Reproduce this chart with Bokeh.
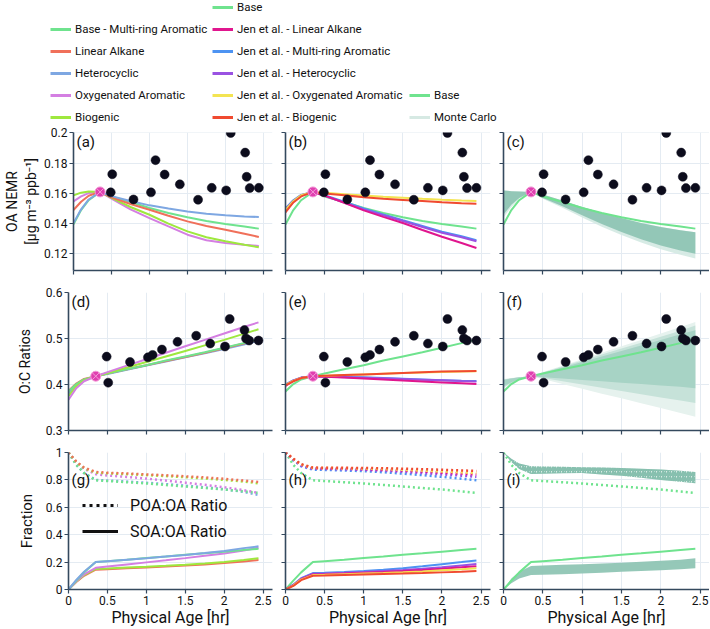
from bokeh.plotting import figure
from bokeh.layouts import column, row
from bokeh.models import Legend, LegendItem, Label, Range1d, FixedTicker
from bokeh.embed import file_html
from bokeh.resources import INLINE

FONT = "Roboto"
TXT = "#111111"
AXC = "#34495e"
GRIDC = "#e4ebf2"

# ---------------- data ----------------
t = [0, 0.1, 0.2, 0.35, 0.5, 0.75, 1.0, 1.25, 1.5, 1.75, 2.0, 2.25, 2.44]

# OA NEMR, this work (panel a)
nemr_base = [0.1395, 0.149, 0.1555, 0.161, 0.158, 0.1543, 0.1503, 0.147, 0.1442, 0.1418, 0.1398, 0.1381, 0.1367]
nemr_la = [0.149, 0.1545, 0.1585, 0.161, 0.1574, 0.153, 0.1492, 0.1452, 0.1415, 0.1385, 0.136, 0.1333, 0.1312]
nemr_het = [0.1404, 0.1495, 0.156, 0.161, 0.1582, 0.155, 0.1521, 0.150, 0.1481, 0.1466, 0.1455, 0.1448, 0.1444]
nemr_oxy = [0.1547, 0.158, 0.1602, 0.161, 0.1565, 0.1495, 0.1437, 0.1382, 0.1327, 0.129, 0.1272, 0.126, 0.1252]
nemr_bio = [0.1587, 0.1605, 0.1612, 0.161, 0.157, 0.151, 0.1459, 0.140, 0.1349, 0.131, 0.1283, 0.126, 0.1244]
# OA NEMR, Jen et al. (panel b)
jnemr_la = [0.1485, 0.1545, 0.1585, 0.161, 0.1585, 0.1538, 0.1488, 0.1445, 0.1404, 0.1358, 0.1313, 0.1272, 0.1239]
jnemr_mra = [0.150, 0.1555, 0.159, 0.161, 0.1588, 0.1545, 0.150, 0.146, 0.1422, 0.1385, 0.1347, 0.1316, 0.129]
jnemr_het = [0.1495, 0.155, 0.1588, 0.161, 0.1585, 0.154, 0.1494, 0.1455, 0.1417, 0.1378, 0.134, 0.131, 0.1283]
jnemr_oxy = [0.149, 0.1548, 0.1588, 0.161, 0.1604, 0.1595, 0.1586, 0.1578, 0.1571, 0.1564, 0.1558, 0.1553, 0.155]
jnemr_bio = [0.1475, 0.154, 0.158, 0.161, 0.160, 0.1588, 0.1575, 0.1565, 0.1557, 0.1549, 0.1541, 0.1535, 0.1532]
# OA NEMR, Monte Carlo envelope (panel c)
mc_nemr_hi = [0.162, 0.1615, 0.1612, 0.161, 0.1593, 0.1553, 0.151, 0.1472, 0.1437, 0.1405, 0.1378, 0.1357, 0.1343]
mc_nemr_lo = [0.146, 0.1525, 0.157, 0.161, 0.157, 0.1515, 0.1455, 0.1398, 0.1345, 0.1297, 0.1255, 0.1222, 0.120]
mc_nemr_lo_faint = [0.144, 0.151, 0.1565, 0.161, 0.1565, 0.1505, 0.144, 0.138, 0.1325, 0.1275, 0.123, 0.1195, 0.117]

# O:C, this work (panel d)
oc_base = [0.385, 0.401, 0.411, 0.418, 0.424, 0.433, 0.442, 0.452, 0.461, 0.470, 0.480, 0.490, 0.498]
oc_la = [0.386, 0.402, 0.412, 0.418, 0.424, 0.433, 0.442, 0.451, 0.460, 0.469, 0.479, 0.489, 0.497]
oc_het = [0.380, 0.399, 0.410, 0.418, 0.423, 0.432, 0.441, 0.450, 0.459, 0.468, 0.477, 0.487, 0.495]
oc_oxy = [0.367, 0.392, 0.407, 0.418, 0.427, 0.441, 0.455, 0.469, 0.483, 0.497, 0.511, 0.525, 0.535]
oc_bio = [0.375, 0.396, 0.409, 0.418, 0.425, 0.437, 0.449, 0.461, 0.473, 0.485, 0.497, 0.510, 0.520]
# O:C, Jen et al. (panel e)
joc_la = [0.397, 0.408, 0.414, 0.418, 0.417, 0.415, 0.413, 0.411, 0.4085, 0.4065, 0.4045, 0.4025, 0.401]
joc_mra = [0.400, 0.409, 0.415, 0.418, 0.4175, 0.4165, 0.4155, 0.414, 0.4125, 0.411, 0.4095, 0.408, 0.4075]
joc_het = [0.399, 0.409, 0.415, 0.418, 0.4172, 0.4160, 0.4148, 0.4135, 0.412, 0.4105, 0.409, 0.4075, 0.4065]
joc_oxy = [0.399, 0.408, 0.414, 0.418, 0.419, 0.4205, 0.422, 0.4234, 0.4248, 0.4262, 0.4273, 0.4283, 0.4288]
joc_bio = [0.398, 0.407, 0.414, 0.418, 0.419, 0.4205, 0.422, 0.4235, 0.425, 0.4265, 0.428, 0.429, 0.4295]
# O:C, Monte Carlo envelope (panel f)
mc_oc_hi_faint = [0.412, 0.414, 0.416, 0.418, 0.427, 0.441, 0.455, 0.469, 0.483, 0.497, 0.511, 0.525, 0.536]
mc_oc_lo_faint = [0.392, 0.402, 0.411, 0.418, 0.412, 0.401, 0.391, 0.380, 0.370, 0.359, 0.349, 0.338, 0.330]
mc_oc_hi_mid = [0.411, 0.4135, 0.416, 0.418, 0.426, 0.439, 0.452, 0.465, 0.478, 0.491, 0.504, 0.517, 0.528]
mc_oc_lo_mid = [0.394, 0.403, 0.4115, 0.418, 0.414, 0.407, 0.400, 0.393, 0.386, 0.379, 0.372, 0.365, 0.360]
mc_oc_hi_core = [0.410, 0.413, 0.416, 0.418, 0.425, 0.437, 0.449, 0.461, 0.473, 0.485, 0.497, 0.509, 0.518]
mc_oc_lo_core = [0.396, 0.405, 0.412, 0.418, 0.416, 0.413, 0.410, 0.407, 0.404, 0.401, 0.398, 0.395, 0.392]

# POA:OA and SOA:OA fractions, this work (panel g)
poa_base = [1.0, 0.91, 0.85, 0.797, 0.792, 0.783, 0.774, 0.763, 0.752, 0.741, 0.730, 0.716, 0.705]
poa_la = [1.0, 0.935, 0.89, 0.858, 0.852, 0.847, 0.840, 0.834, 0.826, 0.818, 0.808, 0.795, 0.785]
poa_het = [1.0, 0.91, 0.85, 0.800, 0.795, 0.788, 0.779, 0.769, 0.758, 0.746, 0.732, 0.712, 0.690]
poa_oxy = [1.0, 0.93, 0.88, 0.842, 0.832, 0.822, 0.810, 0.795, 0.780, 0.764, 0.746, 0.725, 0.705]
poa_bio = [1.0, 0.93, 0.885, 0.853, 0.848, 0.842, 0.835, 0.828, 0.820, 0.810, 0.800, 0.788, 0.775]
soa_base = [0.0, 0.065, 0.125, 0.200, 0.207, 0.218, 0.230, 0.241, 0.253, 0.264, 0.276, 0.288, 0.297]
soa_la = [0.0, 0.055, 0.100, 0.145, 0.148, 0.155, 0.160, 0.167, 0.175, 0.183, 0.193, 0.205, 0.215]
soa_het = [0.0, 0.070, 0.130, 0.200, 0.207, 0.218, 0.228, 0.240, 0.252, 0.266, 0.281, 0.302, 0.315]
soa_oxy = [0.0, 0.060, 0.110, 0.158, 0.168, 0.183, 0.198, 0.213, 0.229, 0.246, 0.263, 0.285, 0.305]
soa_bio = [0.0, 0.058, 0.105, 0.150, 0.153, 0.160, 0.166, 0.173, 0.181, 0.190, 0.200, 0.215, 0.228]
# Jen et al. (panel h)
jpoa_la = [1.0, 0.95, 0.91, 0.885, 0.884, 0.882, 0.879, 0.874, 0.868, 0.861, 0.853, 0.846, 0.840]
jpoa_mra = [1.0, 0.945, 0.90, 0.875, 0.873, 0.869, 0.864, 0.856, 0.846, 0.835, 0.822, 0.809, 0.797]
jpoa_het = [1.0, 0.948, 0.905, 0.882, 0.880, 0.877, 0.873, 0.867, 0.859, 0.850, 0.840, 0.831, 0.823]
jpoa_oxy = [1.0, 0.952, 0.912, 0.888, 0.887, 0.885, 0.883, 0.879, 0.874, 0.868, 0.862, 0.855, 0.850]
jpoa_bio = [1.0, 0.955, 0.915, 0.890, 0.889, 0.888, 0.887, 0.885, 0.882, 0.878, 0.874, 0.869, 0.865]
jsoa_la = [0.0, 0.03, 0.075, 0.110, 0.112, 0.117, 0.123, 0.128, 0.135, 0.143, 0.152, 0.162, 0.170]
jsoa_mra = [0.0, 0.035, 0.082, 0.120, 0.122, 0.127, 0.135, 0.144, 0.155, 0.169, 0.185, 0.200, 0.212]
jsoa_het = [0.0, 0.033, 0.079, 0.115, 0.117, 0.122, 0.128, 0.135, 0.142, 0.152, 0.163, 0.176, 0.186]
jsoa_oxy = [0.0, 0.028, 0.072, 0.105, 0.107, 0.112, 0.117, 0.121, 0.126, 0.132, 0.140, 0.148, 0.155]
jsoa_bio = [0.0, 0.026, 0.068, 0.100, 0.102, 0.106, 0.110, 0.113, 0.116, 0.120, 0.125, 0.130, 0.135]
# Monte Carlo envelopes (panel i)
mc_poa_hi = [1.0, 0.955, 0.92, 0.900, 0.898, 0.896, 0.893, 0.890, 0.886, 0.881, 0.876, 0.866, 0.858]
mc_poa_lo = [1.0, 0.930, 0.88, 0.843, 0.845, 0.848, 0.850, 0.840, 0.830, 0.815, 0.800, 0.787, 0.775]
mc_soa_hi = [0.0, 0.080, 0.13, 0.172, 0.176, 0.180, 0.185, 0.190, 0.196, 0.203, 0.210, 0.218, 0.228]
mc_soa_lo = [0.0, 0.045, 0.08, 0.105, 0.108, 0.112, 0.117, 0.123, 0.129, 0.135, 0.141, 0.148, 0.155]

# measurements
obs_t = [0.49, 0.51, 0.79, 1.02, 1.08, 1.20, 1.40, 1.64, 1.82, 2.01, 2.07, 2.26, 2.28, 2.32, 2.44]
obs_nemr = [0.1607, 0.1727, 0.156, 0.1607, 0.182, 0.1725, 0.166, 0.1558, 0.1637, 0.162, 0.200, 0.187, 0.171, 0.1635, 0.1637]
obs_oc = [0.4606, 0.404, 0.449, 0.459, 0.4643, 0.476, 0.4928, 0.506, 0.489, 0.4826, 0.5424, 0.5183, 0.500, 0.4956, 0.4956]
start_t = [0.35]
start_nemr = [0.161]
start_oc = [0.418]

x_ticks = [0, 0.5, 1, 1.5, 2, 2.5]
x_tick_labels = ["0", "0.5", "1", "1.5", "2", "2.5"]
nemr_ticks = [0.12, 0.14, 0.16, 0.18, 0.2]
nemr_tick_labels = ["0.12", "0.14", "0.16", "0.18", "0.2"]
oc_ticks = [0.3, 0.4, 0.5, 0.6]
oc_tick_labels = ["0.3", "0.4", "0.5", "0.6"]
frac_ticks = [0, 0.2, 0.4, 0.6, 0.8, 1]
frac_tick_labels = ["0", "0.2", "0.4", "0.6", "0.8", "1"]

C = {
    "base": "#6fe38e", "la": "#f0705a", "het": "#7ea7e2", "oxy": "#d47fe2", "bio": "#9ee83e",
    "jla": "#e0168e", "jmra": "#4d93f2", "jhet": "#9a52e2", "joxy": "#f3e452", "jbio": "#f04a30",
    "mc": "#8fc5b4", "mc_leg": "#d6e9e3", "black": "#111111",
}

# ---------------- layout geometry (page has no margin) ----------------
COL_W = [278, 218, 213]
COL_L = [68, 7, 7]
COL_R = [6, 6, 0]
ROW_H = [156, 160, 188]
ROW_T = [7, 11, 11]
ROW_B = [11, 11, 39]
X_RANGE = (0, 2.62)
Y_RANGES = [(0.109, 0.2003), (0.3, 0.6), (0, 1)]
Y_TICKS = [(nemr_ticks, nemr_tick_labels), (oc_ticks, oc_tick_labels), (frac_ticks, frac_tick_labels)]
Y_LABELS = ["OA NEMR\n[\u00b5g m\u207b\u00b3 ppb\u207b\u00b9]", "O:C Ratios", "Fraction"]
Y_LABEL_STANDOFF = [2, 10, 7]
Y_LABEL_SIZE = ["14px", "14px", "15px"]


def make_panel(ri, ci, letter):
    p = figure(width=COL_W[ci], height=ROW_H[ri], x_range=Range1d(*X_RANGE),
               y_range=Range1d(*Y_RANGES[ri]), output_backend="svg", toolbar_location=None,
               min_border_left=COL_L[ci], min_border_right=COL_R[ci],
               min_border_top=ROW_T[ri], min_border_bottom=ROW_B[ri])
    p.outline_line_color = None
    p.background_fill_color = "white"
    p.border_fill_color = "white"
    yt, yl = Y_TICKS[ri]
    p.xaxis.ticker = FixedTicker(ticks=x_ticks)
    p.yaxis.ticker = FixedTicker(ticks=yt)
    for ax in (p.xaxis[0], p.yaxis[0]):
        ax.axis_line_color = AXC
        ax.axis_line_width = 1.6
        ax.major_tick_line_color = AXC
        ax.major_tick_line_width = 1.2
        ax.major_tick_out = 4
        ax.major_tick_in = 0
        ax.minor_tick_out = 0
        ax.minor_tick_in = 0
        ax.major_label_text_font = FONT
        ax.major_label_text_color = TXT
        ax.major_label_text_font_size = "12px"
        ax.axis_label_text_font = FONT
        ax.axis_label_text_font_style = "normal"
        ax.axis_label_text_color = TXT
    xa, ya = p.xaxis[0], p.yaxis[0]
    if ri == 2:
        xa.major_label_overrides = {v: s for v, s in zip(x_ticks, x_tick_labels)}
        xa.axis_label = "Physical Age [hr]"
        xa.axis_label_text_font_size = "16px"
        xa.major_label_standoff = 2
        xa.axis_label_standoff = 0
    else:
        xa.major_label_overrides = {v: "" for v in x_ticks}
        xa.major_label_text_font_size = "1px"
        xa.major_label_standoff = 0
    if ci == 0:
        ya.major_label_overrides = {v: s for v, s in zip(yt, yl)}
        ya.axis_label = Y_LABELS[ri]
        ya.axis_label_text_font_size = Y_LABEL_SIZE[ri]
        ya.axis_label_standoff = Y_LABEL_STANDOFF[ri]
        ya.major_label_standoff = 2
    else:
        ya.major_label_overrides = {v: "" for v in yt}
        ya.major_label_text_font_size = "1px"
        ya.major_label_standoff = 0
    p.grid.grid_line_color = GRIDC
    p.grid.grid_line_width = 1
    fh = ROW_H[ri] - ROW_T[ri] - ROW_B[ri]
    ly = fh - 9 if ri < 2 else fh - 28
    p.add_layout(Label(x=3, y=ly, x_units="screen", y_units="screen", text="(%s)" % letter,
                       text_font=FONT, text_font_size="15px", text_color=TXT,
                       text_baseline="middle", text_align="left"))
    return p


def lines(p, pairs, width=2.0, dash="solid"):
    for ys, key in pairs:
        p.line(t, ys, line_color=C[key], line_width=width, line_dash=dash)


def obs(p, ys, start):
    p.scatter(obs_t, ys, size=9, fill_color="#0c0c1c", line_color="#0c0c1c", line_width=0.5)
    p.scatter(start_t, start, marker="circle_x", size=10, fill_color="#e040b0",
              line_color="#f39ad8", line_width=1)


DOT = "2 3"

# ---- row 1 ----
pa = make_panel(0, 0, "a")
lines(pa, [(nemr_base, "base"), (nemr_oxy, "oxy"), (nemr_bio, "bio"), (nemr_la, "la"), (nemr_het, "het")])
obs(pa, obs_nemr, start_nemr)

pb = make_panel(0, 1, "b")
lines(pb, [(nemr_base, "base"), (jnemr_mra, "jmra"), (jnemr_het, "jhet"), (jnemr_la, "jla"),
           (jnemr_oxy, "joxy"), (jnemr_bio, "jbio")])
obs(pb, obs_nemr, start_nemr)

pc = make_panel(0, 2, "c")
pc.varea(x=t, y1=mc_nemr_lo_faint, y2=mc_nemr_hi, fill_color="#d3e9e2", fill_alpha=0.9)
pc.varea(x=t, y1=mc_nemr_lo, y2=mc_nemr_hi, fill_color=C["mc"], fill_alpha=0.95)
lines(pc, [(nemr_base, "base")])
obs(pc, obs_nemr, start_nemr)

# ---- row 2 ----
pd = make_panel(1, 0, "d")
lines(pd, [(oc_het, "het"), (oc_la, "la"), (oc_base, "base"), (oc_bio, "bio"), (oc_oxy, "oxy")])
obs(pd, obs_oc, start_oc)

pe = make_panel(1, 1, "e")
lines(pe, [(oc_base, "base"), (joc_mra, "jmra"), (joc_het, "jhet"), (joc_la, "jla"),
           (joc_oxy, "joxy"), (joc_bio, "jbio")])
obs(pe, obs_oc, start_oc)

pf = make_panel(1, 2, "f")
pf.varea(x=t, y1=mc_oc_lo_faint, y2=mc_oc_hi_faint, fill_color="#e6f2ee", fill_alpha=1.0)
pf.varea(x=t, y1=mc_oc_lo_mid, y2=mc_oc_hi_mid, fill_color="#c6e2d9", fill_alpha=1.0)
pf.varea(x=t, y1=mc_oc_lo_core, y2=mc_oc_hi_core, fill_color="#a7d3c5", fill_alpha=1.0)
lines(pf, [(oc_base, "base")])
obs(pf, obs_oc, start_oc)

# ---- row 3 ----
pg = make_panel(2, 0, "g")
lines(pg, [(poa_het, "het"), (poa_base, "base"), (poa_oxy, "oxy"), (poa_bio, "bio"), (poa_la, "la")],
      width=2.5, dash=DOT)
lines(pg, [(soa_la, "la"), (soa_bio, "bio"), (soa_oxy, "oxy"), (soa_base, "base"), (soa_het, "het")])
r_dot = pg.line(t, poa_base, line_color=C["black"], line_width=3, line_dash="3 4", visible=False)
r_sol = pg.line(t, soa_base, line_color=C["black"], line_width=3, visible=False)
pg.add_layout(Legend(items=[LegendItem(label="POA:OA Ratio", renderers=[r_dot]),
                            LegendItem(label="SOA:OA Ratio", renderers=[r_sol])],
                     location=(14, 48), orientation="vertical", padding=0, margin=0, spacing=6,
                     glyph_width=36, glyph_height=20, label_height=20, label_standoff=12,
                     label_text_font=FONT, label_text_font_size="16px", label_text_color=TXT,
                     border_line_color=None, background_fill_alpha=0, inactive_fill_alpha=0))

ph = make_panel(2, 1, "h")
lines(ph, [(poa_base, "base"), (jpoa_mra, "jmra"), (jpoa_het, "jhet"), (jpoa_la, "jla"),
           (jpoa_oxy, "joxy"), (jpoa_bio, "jbio")], width=2.5, dash=DOT)
lines(ph, [(soa_base, "base"), (jsoa_mra, "jmra"), (jsoa_het, "jhet"), (jsoa_la, "jla"),
           (jsoa_oxy, "joxy"), (jsoa_bio, "jbio")])

pi = make_panel(2, 2, "i")
pi.varea(x=t, y1=mc_poa_lo, y2=mc_poa_hi, fill_color="#d3e8e1", fill_alpha=0.8,
         hatch_pattern="/", hatch_color="#86bfae", hatch_weight=2.2, hatch_scale=5)
pi.varea(x=t, y1=mc_soa_lo, y2=mc_soa_hi, fill_color=C["mc"], fill_alpha=0.95)
lines(pi, [(poa_base, "base")], width=2.5, dash=DOT)
lines(pi, [(soa_base, "base")])

# ---------------- top legend ----------------
leg = figure(width=709, height=125, x_range=Range1d(0, 1), y_range=Range1d(10, 11),
             output_backend="svg", toolbar_location=None, min_border=0,
             x_axis_location=None, y_axis_location=None)
leg.outline_line_color = None
leg.grid.visible = False

legend_groups = [
    (50, [("Base - Multi-ring Aromatic", nemr_base, "base"), ("Linear Alkane", nemr_la, "la"),
          ("Heterocyclic", nemr_het, "het"), ("Oxygenated Aromatic", nemr_oxy, "oxy"),
          ("Biogenic", nemr_bio, "bio")]),
    (212, [("Base", nemr_base, "base"), ("Jen et al. - Linear Alkane", jnemr_la, "jla"),
           ("Jen et al. - Multi-ring Aromatic", jnemr_mra, "jmra"),
           ("Jen et al. - Heterocyclic", jnemr_het, "jhet"),
           ("Jen et al. - Oxygenated Aromatic", jnemr_oxy, "joxy"),
           ("Jen et al. - Biogenic", jnemr_bio, "jbio")]),
    (409, [("Base", nemr_base, "base"), ("Monte Carlo", mc_nemr_hi, "mc_leg")]),
]
for x0, entries in legend_groups:
    items = []
    for lab, ys, key in entries:
        r = leg.line(t, ys, line_color=C[key], line_width=3, visible=False)
        items.append(LegendItem(label=lab, renderers=[r]))
    leg.add_layout(Legend(items=items, location=(x0, 0), orientation="vertical", padding=0, margin=0,
                          spacing=6, glyph_width=21, glyph_height=16, label_height=16, label_standoff=4,
                          label_text_font=FONT, label_text_font_size="11.5px", label_text_color=TXT,
                          border_line_color=None, background_fill_alpha=0, inactive_fill_alpha=0))

layout = column(leg, row(pa, pb, pc), row(pd, pe, pf), row(pg, ph, pi))

with open("out.html", "w") as f:
    f.write(file_html(layout, INLINE))
